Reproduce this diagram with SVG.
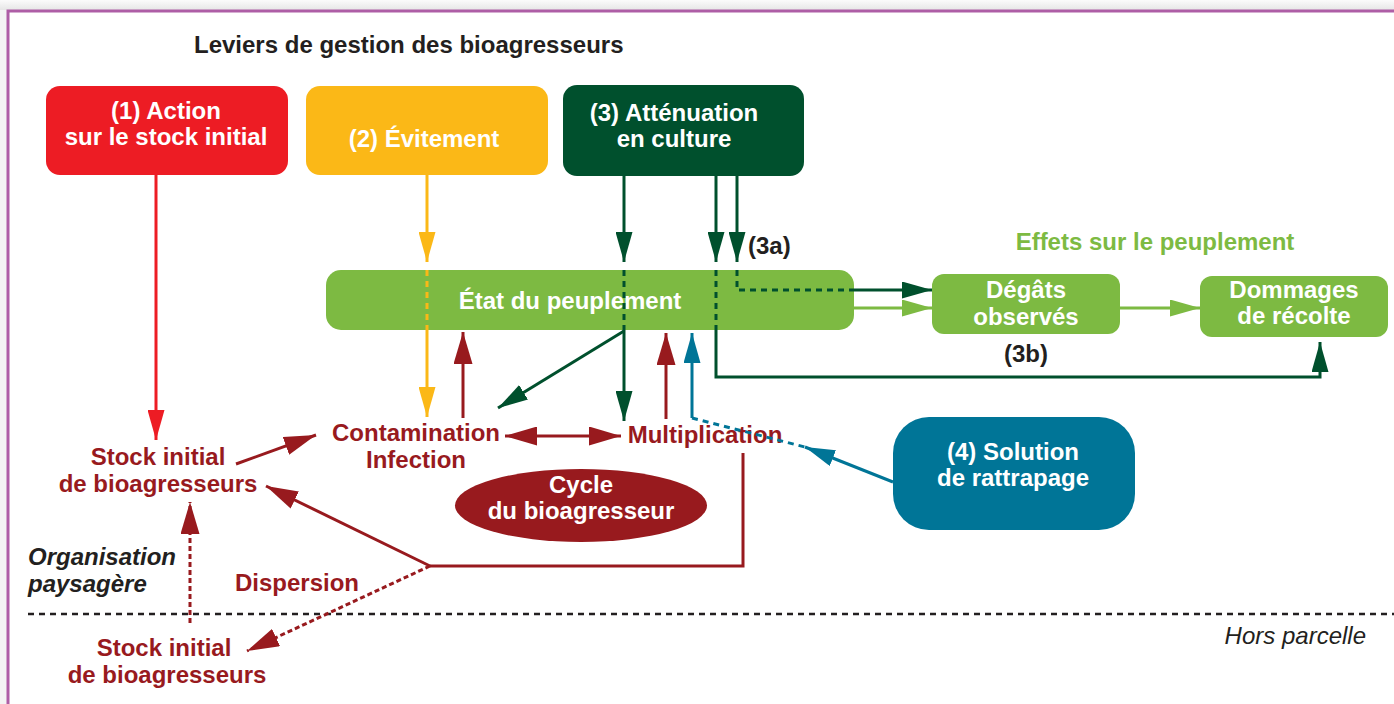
<svg xmlns="http://www.w3.org/2000/svg" width="1394" height="704" viewBox="0 0 1394 704">
<style>
text{font-family:"Liberation Sans",Arial,sans-serif;font-size:24px;font-weight:bold}
.w{fill:#ffffff;text-anchor:middle}
.dr{fill:#981a1e}
.k{fill:#231f20}
.c{text-anchor:middle}
.it{font-style:italic}
.reg{font-weight:normal}
.ln{fill:none;stroke-width:3}
.red{stroke:#ed1c24}
.yel{stroke:#fbb817}
.dg{stroke:#00502d}
.lg{stroke:#7dba42}
.drs{stroke:#981a1e}
.bl{stroke:#007597}
.dash{stroke-dasharray:6 5}
.dash2{stroke-dasharray:5 3}
</style>
<defs>
<linearGradient id="sh" x1="0" y1="0" x2="0" y2="1"><stop offset="0" stop-color="#fbfbfb"/><stop offset="1" stop-color="#e6e6e6"/></linearGradient>
<marker id="aRed" markerUnits="userSpaceOnUse" markerWidth="30" markerHeight="17" refX="30" refY="8.5" orient="auto"><path d="M0,0 L30,8.5 L0,17 z" fill="#ed1c24"/></marker>
<marker id="aYel" markerUnits="userSpaceOnUse" markerWidth="30" markerHeight="17" refX="30" refY="8.5" orient="auto"><path d="M0,0 L30,8.5 L0,17 z" fill="#fbb817"/></marker>
<marker id="aDg" markerUnits="userSpaceOnUse" markerWidth="30" markerHeight="17" refX="30" refY="8.5" orient="auto"><path d="M0,0 L30,8.5 L0,17 z" fill="#00502d"/></marker>
<marker id="aLg" markerUnits="userSpaceOnUse" markerWidth="30" markerHeight="17" refX="30" refY="8.5" orient="auto"><path d="M0,0 L30,8.5 L0,17 z" fill="#7dba42"/></marker>
<marker id="aDr" markerUnits="userSpaceOnUse" markerWidth="32" markerHeight="19" refX="32" refY="9.5" orient="auto-start-reverse"><path d="M0,0 L32,9.5 L0,19 z" fill="#981a1e"/></marker>
<marker id="aBl" markerUnits="userSpaceOnUse" markerWidth="30" markerHeight="17" refX="30" refY="8.5" orient="auto"><path d="M0,0 L30,8.5 L0,17 z" fill="#007597"/></marker>
</defs>
<rect x="0" y="0" width="1394" height="704" fill="#ffffff"/>
<rect x="0" y="0" width="1394" height="10" fill="url(#sh)"/>
<rect x="0" y="10" width="7" height="694" fill="#f4f4f4"/>
<path d="M8,704 V11 H1394" fill="none" stroke="#ae5ea6" stroke-width="3"/>
<line x1="28" y1="614" x2="1394" y2="614" stroke="#231f20" stroke-width="2.5" stroke-dasharray="6 5"/>

<text x="194" y="53" class="k">Leviers de gestion des bioagresseurs</text>

<g id="n1"><rect x="46" y="86" width="242" height="89" rx="14" fill="#ed1c24"/><text x="166" y="119" class="w">(1) Action</text><text x="166" y="145" class="w">sur le stock initial</text></g>
<g id="n2"><rect x="306" y="86" width="242" height="89" rx="14" fill="#fbb817"/><text x="424" y="147" class="w">(2) Évitement</text></g>
<g id="n3"><rect x="563" y="85" width="241" height="91" rx="14" fill="#00502d"/><text x="674" y="121" class="w">(3) Atténuation</text><text x="674" y="147" class="w">en culture</text></g>

<g id="connectors">
<line x1="156" y1="175" x2="156" y2="440" class="ln red" marker-end="url(#aRed)"/>
<line x1="427" y1="175" x2="427" y2="262" class="ln yel" marker-end="url(#aYel)"/>
<line x1="624" y1="176" x2="624" y2="262" class="ln dg" marker-end="url(#aDg)"/>
<line x1="716" y1="176" x2="716" y2="262" class="ln dg" marker-end="url(#aDg)"/>
<line x1="737" y1="176" x2="737" y2="262" class="ln dg" marker-end="url(#aDg)"/>
</g>

<g id="etat"><rect x="326" y="270" width="528" height="60" rx="15" fill="#7dba42"/><text x="570" y="309" class="w">État du peuplement</text></g>
<g id="degats"><rect x="932" y="274" width="188" height="60" rx="12" fill="#7dba42"/><text x="1026" y="298" class="w">Dégâts</text><text x="1026" y="325" class="w">observés</text></g>
<g id="dommages"><rect x="1200" y="276" width="188" height="61" rx="12" fill="#7dba42"/><text x="1294" y="298" class="w">Dommages</text><text x="1294" y="324" class="w">de récolte</text></g>

<text x="1155" y="250" class="c" fill="#7dba42">Effets sur le peuplement</text>
<text x="748" y="254" class="k">(3a)</text>
<text x="1026" y="362" class="k c">(3b)</text>

<g id="cycle"><ellipse cx="581" cy="505.5" rx="126" ry="36.5" fill="#981a1e"/><text x="581" y="493" class="w">Cycle</text><text x="581" y="519" class="w">du bioagresseur</text></g>
<g id="n4"><rect x="893" y="417" width="242" height="113" rx="36" fill="#007597"/><text x="1013" y="460" class="w">(4) Solution</text><text x="1013" y="486" class="w">de rattrapage</text></g>

<g id="stock1"><text x="158" y="465" class="dr c">Stock initial</text><text x="158" y="492" class="dr c">de bioagresseurs</text></g>
<g id="contam"><text x="416" y="441" class="dr c">Contamination</text><text x="416" y="468" class="dr c">Infection</text></g>
<g id="multi"><text x="705" y="443" class="dr c">Multiplication</text></g>
<g id="stock2"><text x="164" y="656" class="dr c">Stock initial</text><text x="167" y="683" class="dr c">de bioagresseurs</text></g>
<text x="235" y="591" class="dr">Dispersion</text>
<text x="28" y="565" class="k it">Organisation</text>
<text x="28" y="592" class="k it">paysagère</text>
<text x="1366" y="644" class="k it reg" text-anchor="end">Hors parcelle</text>

<g id="connectors2">
<line x1="427" y1="270" x2="427" y2="330" class="ln yel dash"/>
<line x1="427" y1="330" x2="427" y2="417" class="ln yel" marker-end="url(#aYel)"/>
<line x1="624" y1="270" x2="624" y2="330" class="ln dg dash"/>
<line x1="624" y1="330" x2="624" y2="421" class="ln dg" marker-end="url(#aDg)"/>
<line x1="624" y1="331" x2="498" y2="408" class="ln dg" marker-end="url(#aDg)"/>
<line x1="716" y1="270" x2="716" y2="330" class="ln dg dash"/>
<path d="M716,330 V377 H1320 V342" class="ln dg" marker-end="url(#aDg)"/>
<path d="M737,270 V290 H854" class="ln dg dash"/>
<line x1="854" y1="290" x2="932" y2="290" class="ln dg" marker-end="url(#aDg)"/>
<line x1="854" y1="308" x2="932" y2="308" class="ln lg" marker-end="url(#aLg)"/>
<line x1="1120" y1="308" x2="1200" y2="308" class="ln lg" marker-end="url(#aLg)"/>
<line x1="463" y1="418" x2="463" y2="332" class="ln drs" marker-end="url(#aDr)"/>
<line x1="666" y1="419" x2="666" y2="333" class="ln drs" marker-end="url(#aDr)"/>
<line x1="692" y1="418" x2="692" y2="333" class="ln bl" marker-end="url(#aBl)"/>
<line x1="692" y1="418" x2="805" y2="447" class="ln bl dash"/>
<line x1="893" y1="482" x2="805" y2="447" class="ln bl" marker-end="url(#aBl)"/>
<line x1="505" y1="436" x2="621" y2="436" class="ln drs" marker-start="url(#aDr)" marker-end="url(#aDr)"/>
<line x1="236" y1="464" x2="316" y2="435" class="ln drs" marker-end="url(#aDr)"/>
<path d="M743,453 V566 H430" class="ln drs"/>
<line x1="430" y1="566" x2="266" y2="486" class="ln drs" marker-end="url(#aDr)"/>
<line x1="430" y1="566" x2="247" y2="651" class="ln drs dash2" marker-end="url(#aDr)"/>
<line x1="190" y1="623" x2="190" y2="502" class="ln drs dash2" marker-end="url(#aDr)"/>
</g>
</svg>
